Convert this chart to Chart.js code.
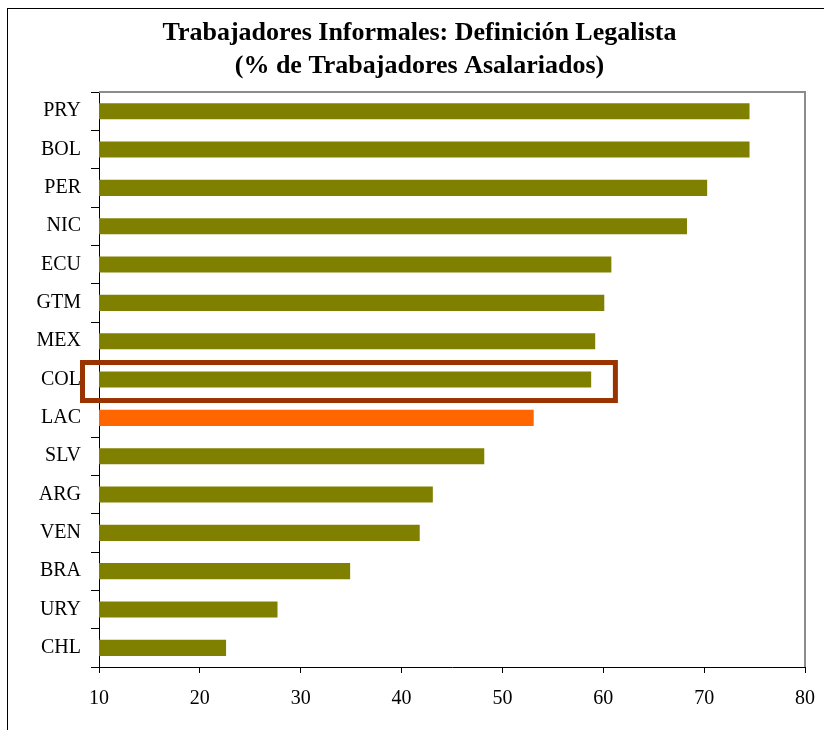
<!DOCTYPE html>
<html>
<head>
<meta charset="utf-8">
<script src="https://cdn.jsdelivr.net/npm/chart.js@4/dist/chart.umd.min.js"></script>
<style>
  html, body { margin: 0; padding: 0; background: #fff; overflow: hidden; }
  #wrap { position: relative; width: 824px; height: 730px; }
  #frame { position: absolute; left: 7px; top: 8px; width: 900px; height: 800px;
           border-left: 1px solid #000; border-top: 1px solid #000; }
  canvas { position: absolute; left: 0; top: 0; }
</style>
</head>
<body>
<div id="wrap">
  <div id="frame"></div>
  <canvas id="grafico" width="824" height="730"></canvas>
</div>
<script>
const paises = ['PRY', 'BOL', 'PER', 'NIC', 'ECU', 'GTM', 'MEX', 'COL', 'LAC', 'SLV', 'ARG', 'VEN', 'BRA', 'URY', 'CHL'];
const informales = [74.5, 74.5, 70.3, 68.3, 60.8, 60.1, 59.2, 58.8, 53.1, 48.2, 43.1, 41.8, 34.9, 27.7, 22.6];
const ticksX = [10, 20, 30, 40, 50, 60, 70, 80];
const destacado = 'COL';
const promedio = 'LAC';

const colores = paises.map(p => p === promedio ? '#FF6600' : '#808000');

// marco gris arriba/derecha + recuadro sobre COL
const extras = {
  id: 'extras',
  afterDraw(chart) {
    const ctx = chart.ctx;
    const a = chart.chartArea;
    const x = chart.scales.x;
    const y = chart.scales.y;
    ctx.save();
    ctx.strokeStyle = '#8c8c8c';
    ctx.lineWidth = 2;
    ctx.beginPath();
    ctx.moveTo(a.left, a.top);
    ctx.lineTo(a.right, a.top);
    ctx.lineTo(a.right, a.bottom);
    ctx.stroke();

    const yc = y.getPixelForValue(paises.indexOf(destacado));
    ctx.strokeStyle = '#993300';
    ctx.lineWidth = 5;
    ctx.strokeRect(a.left - 16.5, yc - 17, x.getPixelForValue(61.2) - a.left + 16.5, 38);
    ctx.restore();
  }
};

new Chart(document.getElementById('grafico').getContext('2d'), {
  type: 'bar',
  data: {
    labels: paises,
    datasets: [{
      data: informales,
      backgroundColor: colores,
      barPercentage: 0.42,
      categoryPercentage: 1
    }]
  },
  options: {
    indexAxis: 'y',
    responsive: false,
    animation: false,
    layout: { padding: { left: 34, right: 19, top: 0, bottom: 0 } },
    plugins: {
      legend: { display: false },
      tooltip: { enabled: false },
      title: {
        display: true,
        text: ['Trabajadores Informales: Definición Legalista', '(% de Trabajadores Asalariados)'],
        color: '#000',
        font: { family: '"Liberation Serif", "Times New Roman", serif', size: 26, weight: 'bold', lineHeight: 1.27 },
        padding: { top: 17, bottom: 9 }
      }
    },
    scales: {
      x: {
        min: 10,
        max: 80,
        afterBuildTicks: s => { s.ticks = ticksX.map(v => ({ value: v })); },
        afterFit: s => { s.height = 63; s.paddingLeft = 0; s.paddingRight = 0; },
        grid: { drawOnChartArea: false, color: '#000', tickLength: 6 },
        border: { color: '#000', width: 1 },
        ticks: {
          color: '#000',
          padding: 14,
          maxRotation: 0,
          font: { family: '"Liberation Serif", "Times New Roman", serif', size: 20 }
        }
      },
      y: {
        afterFit: s => { s.width = 65; },
        grid: { drawOnChartArea: false, color: '#000', tickLength: 8, offset: true },
        border: { color: '#000', width: 1 },
        ticks: {
          color: '#000',
          padding: 10,
          font: { family: '"Liberation Serif", "Times New Roman", serif', size: 20 }
        }
      }
    }
  },
  plugins: [extras]
});
</script>
</body>
</html>
